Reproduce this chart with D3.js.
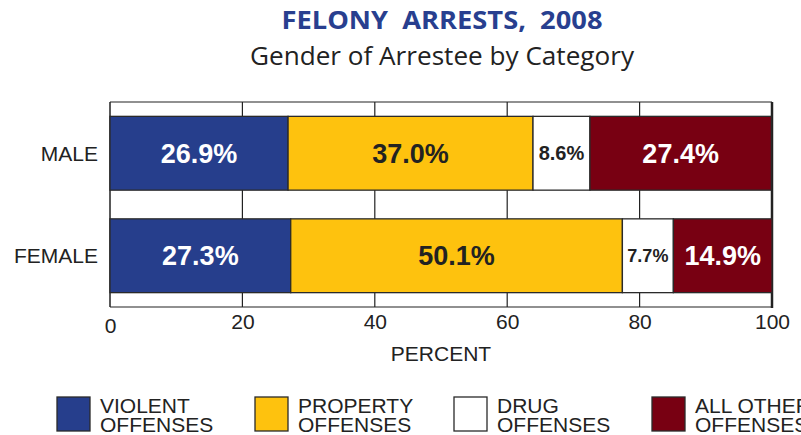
<!DOCTYPE html>
<html>
<head>
<meta charset="utf-8">
<script src="https://cdn.jsdelivr.net/npm/d3@7"></script>
<style>
  body { margin: 0; background: #fff; }
  svg text { font-family: "Liberation Sans", Arial, sans-serif; }
</style>
</head>
<body>
<svg id="chart" width="801" height="435"></svg>
<script>
const genders = ['MALE', 'FEMALE'];
const categories = ['Violent', 'Property', 'Drug', 'All Other'];
const legendLines = [['VIOLENT', 'OFFENSES'], ['PROPERTY', 'OFFENSES'], ['DRUG', 'OFFENSES'], ['ALL OTHER', 'OFFENSES']];
const male = [26.9, 37.0, 8.6, 27.4];
const female = [27.3, 50.1, 7.7, 14.9];
const ticks = [0, 20, 40, 60, 80, 100];

const colors = ['#263e8c', '#fec20e', '#ffffff', '#780012'];
const textColors = ['#fff', '#222', '#222', '#fff'];

const svg = d3.select('#chart');

const x = d3.scaleLinear().domain([0, 100]).range([110, 772]);
const y = d3.scaleBand().domain(genders).range([102, 307])
  .paddingInner(0.28).paddingOuter(0.14);

// titles
svg.append('text')
  .attr('x', 442).attr('y', 29)
  .attr('text-anchor', 'middle')
  .style('font-family', '"Open Sans", sans-serif')
  .style('font-weight', 'bold')
  .style('font-size', '25px')
  .style('white-space', 'pre')
  .attr('fill', '#283f8f')
  .attr('textLength', 321)
  .attr('lengthAdjust', 'spacingAndGlyphs')
  .text('FELONY  ARRESTS,  2008');

svg.append('text')
  .attr('x', 442).attr('y', 65)
  .attr('text-anchor', 'middle')
  .style('font-family', '"Open Sans", sans-serif')
  .style('font-size', '25px')
  .attr('fill', '#222')
  .attr('textLength', 384)
  .attr('lengthAdjust', 'spacingAndGlyphs')
  .text('Gender of Arrestee by Category');

// frame + grid
const [yTop, yBottom] = y.range();
svg.append('g')
  .selectAll('line')
  .data(ticks.slice(1, -1))
  .enter()
  .append('line')
  .attr('x1', d => x(d)).attr('x2', d => x(d))
  .attr('y1', yTop).attr('y2', yBottom)
  .attr('stroke', '#222').attr('stroke-width', 1.2);

svg.append('line')
  .attr('x1', x(0)).attr('x2', x(100)).attr('y1', yTop).attr('y2', yTop)
  .attr('stroke', '#222').attr('stroke-width', 1.2);
svg.append('line')
  .attr('x1', x(0)).attr('x2', x(100)).attr('y1', yBottom).attr('y2', yBottom)
  .attr('stroke', '#222').attr('stroke-width', 1.2);
svg.append('line')
  .attr('x1', x(0)).attr('x2', x(0)).attr('y1', yTop).attr('y2', yBottom)
  .attr('stroke', '#222').attr('stroke-width', 1.5);
svg.append('line')
  .attr('x1', x(100)).attr('x2', x(100)).attr('y1', yTop).attr('y2', yBottom + 1)
  .attr('stroke', '#222').attr('stroke-width', 2.5);

// stacked bars
const rows = genders.map((g, i) => {
  const vals = i === 0 ? male : female;
  let acc = 0;
  return vals.map((v, j) => {
    const seg = { gender: g, cat: j, v, x0: acc, x1: acc + v };
    acc += v;
    return seg;
  });
});
const segs = rows.flat();

svg.append('g')
  .selectAll('rect')
  .data(segs)
  .enter()
  .append('rect')
  .attr('x', d => x(d.x0))
  .attr('y', d => y(d.gender))
  .attr('width', d => x(d.x1) - x(d.x0))
  .attr('height', y.bandwidth())
  .attr('fill', d => colors[d.cat])
  .attr('stroke', '#2a2a2a')
  .attr('stroke-width', 1.3);

svg.append('g')
  .selectAll('text')
  .data(segs)
  .enter()
  .append('text')
  .attr('text-anchor', 'middle')
  .attr('x', d => (x(d.x0) + x(d.x1)) / 2)
  .attr('y', d => y(d.gender) + y.bandwidth() / 2)
  .attr('dy', '0.36em')
  .attr('fill', d => textColors[d.cat])
  .style('font-weight', 'bold')
  .style('font-size', d => d.v < 8 ? '18px' : d.v < 10 ? '20px' : '27px')
  .text(d => `${d.v.toFixed(1)}%`);

// y labels
svg.append('g')
  .selectAll('text')
  .data(genders)
  .enter()
  .append('text')
  .attr('text-anchor', 'end')
  .attr('x', 98)
  .attr('y', d => y(d) + y.bandwidth() / 2)
  .attr('dy', '0.36em')
  .attr('fill', '#222')
  .style('font-size', '21px')
  .text(d => d);

// x axis
const xAxis = svg.append('g')
  .attr('transform', `translate(0, ${yBottom})`)
  .call(d3.axisBottom(x).tickValues(ticks).tickSize(0).tickPadding(7));
xAxis.select('.domain').remove();
xAxis.selectAll('text')
  .attr('fill', '#222')
  .style('font-family', '"Liberation Sans", Arial, sans-serif')
  .style('font-size', '21px');
xAxis.selectAll('.tick').filter(d => d === 0).select('text').attr('dy', '0.92em');

svg.append('text')
  .attr('x', 441).attr('y', 361)
  .attr('text-anchor', 'middle')
  .attr('fill', '#222')
  .style('font-size', '21px')
  .text('PERCENT');

// legend
const legendX = [57, 255, 454, 652];
const legend = svg.append('g')
  .selectAll('g')
  .data(categories)
  .enter()
  .append('g')
  .attr('transform', (d, i) => `translate(${legendX[i]}, 397)`);

legend.append('rect')
  .attr('width', 33).attr('height', 34)
  .attr('fill', (d, i) => colors[i])
  .attr('stroke', '#2a2a2a').attr('stroke-width', 1.3);

legend.append('text')
  .attr('fill', '#222')
  .style('font-family', '"Liberation Sans Narrow", "Liberation Sans", Arial, sans-serif')
  .style('font-size', '21px')
  .selectAll('tspan')
  .data((d, i) => legendLines[i])
  .enter()
  .append('tspan')
  .attr('x', 43)
  .attr('y', (d, i) => 16 + i * 19)
  .text(d => d);
</script>
</body>
</html>
